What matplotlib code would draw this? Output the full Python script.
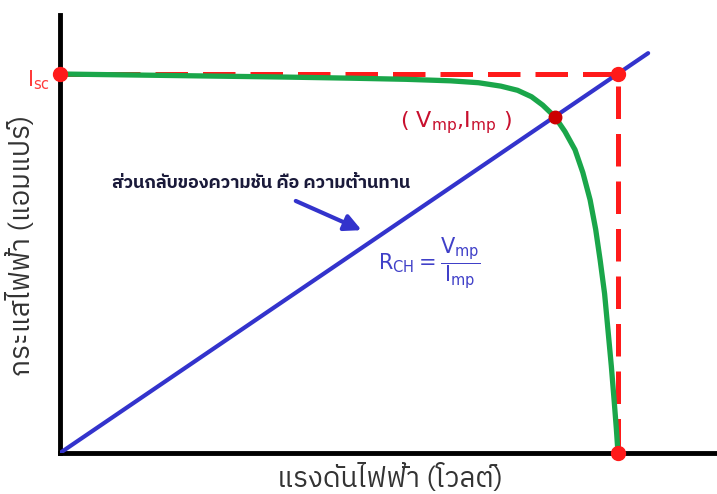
import numpy as np
import matplotlib
matplotlib.use('Agg')
import matplotlib.pyplot as plt
from matplotlib import font_manager
from matplotlib.ft2font import FT2Font

# --- ข้อมูล (หน่วยสัมพัทธ์: Voc = 1, Isc = 1) ---
v_curve = [0.0, 0.10, 0.25, 0.40, 0.52, 0.62, 0.70, 0.75, 0.79, 0.82, 0.845, 0.865,
           0.887, 0.905, 0.923, 0.937, 0.950, 0.960, 0.968, 0.976, 0.982, 0.988, 0.993, 0.997, 1.0]
i_curve = [1.0, 0.998, 0.995, 0.992, 0.989, 0.986, 0.982, 0.977, 0.968, 0.957, 0.940, 0.918,
           0.887, 0.848, 0.800, 0.740, 0.668, 0.590, 0.509, 0.420, 0.325, 0.230, 0.140, 0.065, 0.0]
v_load = [0.0, 1.054]
i_load = [0.0, 1.055]
v_mp, i_mp = 0.887, 0.887
v_oc, i_sc = 1.0, 1.0


def thai_font():
    names = []
    for f in font_manager.fontManager.ttflist:
        try:
            if 0x0E01 in FT2Font(f.fname).get_charmap():
                names.append(f.name)
        except Exception:
            pass
    for n in names:
        if 'Thai' in n:
            return n
    return names[0] if names else 'DejaVu Sans'


th = thai_font()
plt.rcParams['font.family'] = [th, 'DejaVu Sans']
plt.rcParams['mathtext.fontset'] = 'dejavusans'

fig = plt.figure(figsize=(7.17, 4.94), dpi=100)
ax = fig.add_axes([60/717, 41/494, 657/717, 438/494])
ax.set_xlim(0, 657/558)
ax.set_ylim(0, 438/379)

for s in ['top', 'right']:
    ax.spines[s].set_visible(False)
for s in ['left', 'bottom']:
    ax.spines[s].set_linewidth(3.5)
ax.set_xticks([])
ax.set_yticks([])

# เส้นประสีแดง
ax.plot([0, v_oc, v_oc], [i_sc, i_sc, 0], color='#ff1a1a', lw=3.6,
        dashes=(6.5, 3), solid_capstyle='round', zorder=2)

# เส้นโหลด (สีน้ำเงิน)
ax.plot(v_load, i_load, color='#3333cc', lw=3, solid_capstyle='round', zorder=3)

# เส้นโค้ง I-V (สีเขียว)
ax.plot(v_curve, i_curve, color='#1aa64a', lw=3.8, solid_capstyle='round', zorder=4)

# จุดสีแดง
ax.plot([0, v_oc, v_oc], [i_sc, i_sc, 0], 'o', color='#ff1a1a', ms=10, clip_on=False, zorder=6)
ax.plot([v_mp], [i_mp], 'o', color='#cc0000', ms=9, zorder=6)

ax.text(-0.018, 0.984, r'$\mathrm{I_{sc}}$', color='#ff3b3b', fontsize=15,
        ha='right', va='center', family='DejaVu Sans')
ax.text(0.61, 0.873, r'( $\mathrm{V_{mp}}$,$\mathrm{I_{mp}}$ )', color='#c8102e', fontsize=16,
        ha='left', va='center', family='DejaVu Sans')
ax.text(0.57, 0.50, r'$\mathrm{R_{CH}} = \dfrac{\mathrm{V_{mp}}}{\mathrm{I_{mp}}}$', color='#4040c8',
        fontsize=15, ha='left', va='center', family='DejaVu Sans')

ax.text(0.36, 0.712, 'ส่วนกลับของความชัน คือ ความต้านทาน', color='#1a1a3a', fontsize=13,
        fontweight='bold', ha='center', va='center')
ax.annotate('', xy=(0.545, 0.585), xytext=(0.418, 0.668),
            arrowprops=dict(arrowstyle='-|>,head_length=1.0,head_width=0.5', color='#3333cc', lw=3))

fig.text(390/717, 1 - 478/494, 'แรงดันไฟฟ้า (โวลต์)', color='#333333', fontsize=20,
         ha='center', va='center')
fig.text(22/717, 1 - 245/494, 'กระแสไฟฟ้า (แอมแปร์)', color='#333333', fontsize=20,
         ha='center', va='center', rotation=90)

fig.savefig('out.png', dpi=100)
